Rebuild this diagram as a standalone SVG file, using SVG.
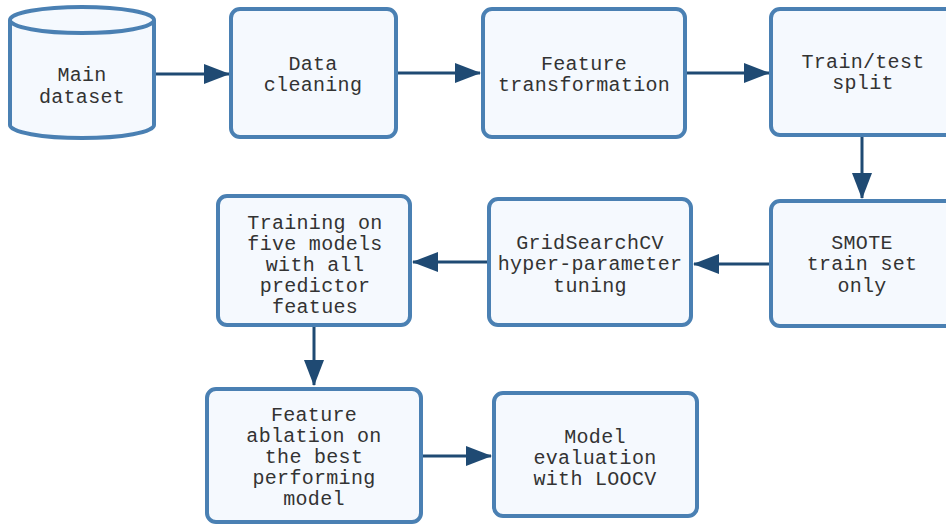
<svg xmlns="http://www.w3.org/2000/svg" width="946" height="525" viewBox="0 0 946 525">
  <defs>
    <style>
      .node { fill: #f5f9fe; stroke: #4a80b3; stroke-width: 4; }
      .lbl { font-family: "Liberation Mono", "DejaVu Sans Mono", monospace; font-size: 20px; letter-spacing: 0.3px; fill: #333333; text-anchor: middle; dominant-baseline: central; }
      .edge { stroke: #1f4a73; stroke-width: 3; fill: none; marker-end: url(#arrow); }
    </style>
    <marker id="arrow" viewBox="0 0 26 20" refX="25" refY="10" markerWidth="26" markerHeight="20" markerUnits="userSpaceOnUse" orient="auto">
      <path d="M0,0 L26,10 L0,20 Z" fill="#1f4a73"/>
    </marker>
  </defs>
  <rect width="946" height="525" fill="#ffffff"/>

  <g id="connectors">
    <line class="edge" x1="154" y1="74" x2="229" y2="74"/>
    <line class="edge" x1="397" y1="73" x2="480" y2="73"/>
    <line class="edge" x1="686" y1="73" x2="769" y2="73"/>
    <line class="edge" x1="862" y1="136" x2="862" y2="198"/>
    <line class="edge" x1="770" y1="264" x2="694" y2="264"/>
    <line class="edge" x1="487" y1="262" x2="413" y2="262"/>
    <line class="edge" x1="314" y1="326" x2="314" y2="385"/>
    <line class="edge" x1="422" y1="456" x2="491" y2="456"/>
  </g>

  <g id="main-dataset">
    <path class="node" d="M10,20 L10,125 A72,13 0 0 0 154,125 L154,20 A72,13 0 0 0 10,20 Z"/>
    <path class="node" d="M10,20 A72,13 0 0 0 154,20" fill="none"/>
    <text class="lbl" x="82" y="75">Main</text>
    <text class="lbl" x="82" y="97">dataset</text>
  </g>

  <g id="data-cleaning">
    <rect class="node" x="231" y="9" width="165" height="128" rx="9"/>
    <text class="lbl" x="313" y="64">Data</text>
    <text class="lbl" x="313" y="85">cleaning</text>
  </g>

  <g id="feature-transformation">
    <rect class="node" x="483" y="9" width="202" height="128" rx="9"/>
    <text class="lbl" x="584" y="64">Feature</text>
    <text class="lbl" x="584" y="85">transformation</text>
  </g>

  <g id="train-test-split">
    <rect class="node" x="771" y="9" width="190" height="126" rx="9"/>
    <text class="lbl" x="863" y="62">Train/test</text>
    <text class="lbl" x="863" y="83">split</text>
  </g>

  <g id="smote">
    <rect class="node" x="771" y="201" width="190" height="125" rx="9"/>
    <text class="lbl" x="862" y="243">SMOTE</text>
    <text class="lbl" x="862" y="264">train set</text>
    <text class="lbl" x="862" y="286">only</text>
  </g>

  <g id="gridsearchcv">
    <rect class="node" x="489" y="199" width="202" height="126" rx="9"/>
    <text class="lbl" x="590" y="243">GridSearchCV</text>
    <text class="lbl" x="590" y="264">hyper-parameter</text>
    <text class="lbl" x="590" y="286">tuning</text>
  </g>

  <g id="training">
    <rect class="node" x="218" y="196" width="192" height="129" rx="9"/>
    <text class="lbl" x="315" y="223">Training on</text>
    <text class="lbl" x="315" y="244">five models</text>
    <text class="lbl" x="315" y="265">with all</text>
    <text class="lbl" x="315" y="286">predictor</text>
    <text class="lbl" x="315" y="307">featues</text>
  </g>

  <g id="feature-ablation">
    <rect class="node" x="207" y="389" width="214" height="133" rx="9"/>
    <text class="lbl" x="314" y="415">Feature</text>
    <text class="lbl" x="314" y="436">ablation on</text>
    <text class="lbl" x="314" y="457">the best</text>
    <text class="lbl" x="314" y="478">performing</text>
    <text class="lbl" x="314" y="499">model</text>
  </g>

  <g id="model-evaluation">
    <rect class="node" x="494" y="393" width="203" height="123" rx="9"/>
    <text class="lbl" x="595" y="437">Model</text>
    <text class="lbl" x="595" y="458">evaluation</text>
    <text class="lbl" x="595" y="479">with LOOCV</text>
  </g>
</svg>
